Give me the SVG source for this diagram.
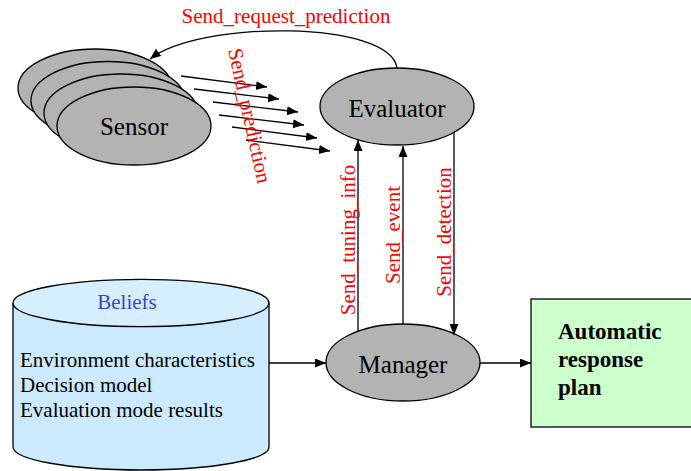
<svg xmlns="http://www.w3.org/2000/svg" width="691" height="471" viewBox="0 0 691 471">
  <style>
    .node { fill: #b3b3b3; stroke: #000; stroke-width: 1.3; }
    .lbl { font-family: "Liberation Serif", "Times New Roman", serif; font-size: 25px; fill: #000; }
    .msg { font-family: "Liberation Serif", "Times New Roman", serif; font-size: 21px; fill: #ff0000; }
    .txt { font-family: "Liberation Serif", "Times New Roman", serif; font-size: 21px; fill: #000; }
    .bold { font-family: "Liberation Serif", "Times New Roman", serif; font-size: 23px; font-weight: bold; fill: #000; }
    .edge { fill: none; stroke: #000; stroke-width: 1.3; marker-end: url(#arrow); }
  </style>
  <defs>
    <marker id="arrow" markerUnits="userSpaceOnUse" markerWidth="12" markerHeight="10" refX="11" refY="4.5" orient="auto">
      <path d="M0,0 L11,4.5 L0,9 z" fill="#000"/>
    </marker>
  </defs>

  <rect width="691" height="471" fill="#fff"/>

  <!-- Sensor stack -->
  <g id="sensor">
    <ellipse class="node" cx="95" cy="88" rx="77" ry="39"/>
    <ellipse class="node" cx="108" cy="100.5" rx="77" ry="39"/>
    <ellipse class="node" cx="121" cy="113" rx="77" ry="39"/>
    <ellipse class="node" cx="134" cy="126" rx="77" ry="39"/>
    <text class="lbl" x="134" y="135" text-anchor="middle">Sensor</text>
  </g>

  <!-- Evaluator -->
  <g id="evaluator">
    <ellipse class="node" cx="397" cy="106.5" rx="77" ry="38.5"/>
    <text class="lbl" x="397" y="117" text-anchor="middle">Evaluator</text>
  </g>

  <!-- Manager -->
  <g id="manager">
    <ellipse class="node" cx="403" cy="362.5" rx="77" ry="38.5"/>
    <text class="lbl" x="403" y="373" text-anchor="middle">Manager</text>
  </g>

  <!-- Beliefs store -->
  <g id="beliefs">
    <path d="M13,303 L13,447 A128,23 0 0 0 269,447 L269,303" fill="#cceafd" stroke="#000" stroke-width="1.3"/>
    <ellipse cx="141" cy="303" rx="128" ry="23.7" fill="#d6effe" stroke="#000" stroke-width="1.3"/>
    <text x="127" y="309" text-anchor="middle" font-family="Liberation Serif, Times New Roman, serif" font-size="21" fill="#3f3fd6">Beliefs</text>
    <text class="txt" x="20" y="367">Environment characteristics</text>
    <text class="txt" x="20" y="392">Decision model</text>
    <text class="txt" x="20" y="417">Evaluation mode results</text>
  </g>

  <!-- Response plan -->
  <g id="plan">
    <rect x="531" y="299" width="170" height="128" fill="#ccffcc" stroke="#000" stroke-width="1.3"/>
    <text class="bold" x="558" y="339">Automatic</text>
    <text class="bold" x="558" y="367">response</text>
    <text class="bold" x="558" y="395">plan</text>
  </g>

  <!-- Connectors -->
  <g id="connectors">
    <path class="edge" d="M397,68 C390,20 200,20 150,59"/>
    <line class="edge" x1="181" y1="76" x2="267" y2="87"/>
    <line class="edge" x1="194" y1="89" x2="279" y2="99"/>
    <line class="edge" x1="213" y1="102" x2="298" y2="112"/>
    <line class="edge" x1="219" y1="115" x2="304" y2="125"/>
    <line class="edge" x1="232" y1="127" x2="317" y2="138"/>
    <line class="edge" x1="246" y1="140" x2="330" y2="151"/>
    <line class="edge" x1="358" y1="331" x2="358" y2="140"/>
    <line class="edge" x1="403" y1="324" x2="403" y2="146"/>
    <line class="edge" x1="454" y1="132" x2="454" y2="335"/>
    <line class="edge" x1="269" y1="363" x2="326" y2="363"/>
    <line class="edge" x1="480" y1="363" x2="531" y2="363"/>
  </g>

  <!-- Message labels -->
  <g id="labels">
    <text class="msg" x="286" y="23" text-anchor="middle">Send_request_prediction</text>
    <text class="msg" transform="translate(228,50) rotate(77.5)">Send_prediction</text>
    <text class="msg" transform="translate(355,240) rotate(-90)" text-anchor="middle">Send_tuning_info</text>
    <text class="msg" transform="translate(400,235) rotate(-90)" text-anchor="middle">Send_event</text>
    <text class="msg" transform="translate(451,232) rotate(-90)" text-anchor="middle">Send_detection</text>
  </g>
</svg>
